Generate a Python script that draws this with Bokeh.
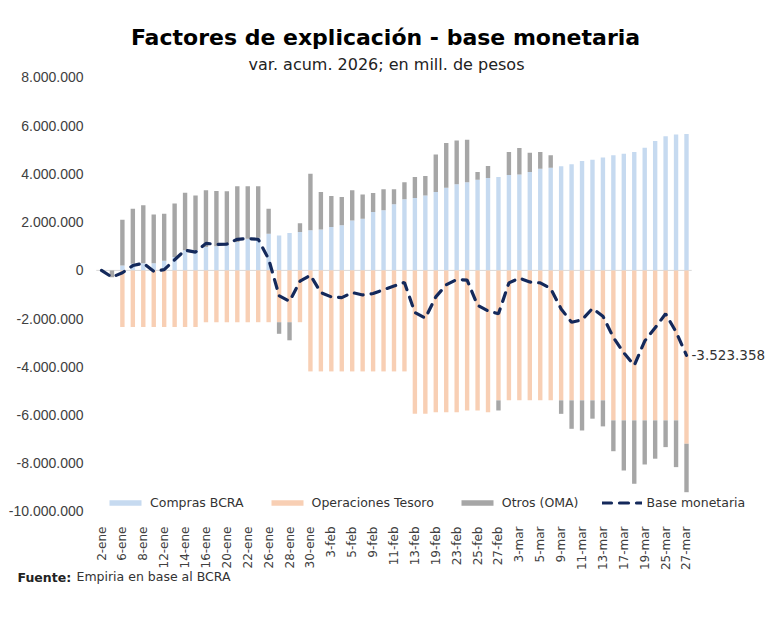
import math

from bokeh.plotting import figure
from bokeh.models import Range1d, FixedTicker, Label, Legend, LegendItem
from bokeh.embed import file_html
from bokeh.resources import INLINE

# Business days, 2026 (cumulative variation since 2-ene)
fechas = [
    "2-ene", "5-ene", "6-ene", "7-ene", "8-ene", "9-ene", "12-ene", "13-ene", "14-ene", "15-ene",
    "16-ene", "19-ene", "20-ene", "21-ene", "22-ene", "23-ene", "26-ene", "27-ene", "28-ene", "29-ene",
    "30-ene", "2-feb", "3-feb", "4-feb", "5-feb", "6-feb", "9-feb", "10-feb", "11-feb", "12-feb",
    "13-feb", "18-feb", "19-feb", "20-feb", "23-feb", "24-feb", "25-feb", "26-feb", "27-feb", "2-mar",
    "3-mar", "4-mar", "5-mar", "6-mar", "9-mar", "10-mar", "11-mar", "12-mar", "13-mar", "16-mar",
    "17-mar", "18-mar", "19-mar", "20-mar", "25-mar", "26-mar", "27-mar",
]

# Millions of pesos
compras_bcra = [
    0, 0, 200000, 280000, 300000, 300000, 400000, 550000, 830000, 850000,
    970000, 1000000, 1040000, 1180000, 1310000, 1350000, 1520000, 1450000, 1550000, 1590000,
    1660000, 1700000, 1800000, 1870000, 2070000, 2140000, 2420000, 2490000, 2740000, 2950000,
    3000000, 3110000, 3250000, 3430000, 3570000, 3660000, 3760000, 3830000, 3870000, 3960000,
    3980000, 4080000, 4220000, 4260000, 4320000, 4400000, 4540000, 4590000, 4680000, 4770000,
    4840000, 4910000, 5090000, 5370000, 5560000, 5640000, 5660000,
]

operaciones_tesoro = [
    0, 0, -2350000, -2350000, -2350000, -2350000, -2350000, -2350000, -2350000, -2350000,
    -2150000, -2150000, -2150000, -2150000, -2150000, -2150000, -2150000, -2150000, -2150000, -2150000,
    -4190000, -4190000, -4190000, -4190000, -4190000, -4190000, -4190000, -4190000, -4190000, -4190000,
    -5950000, -5950000, -5880000, -5880000, -5880000, -5810000, -5810000, -5880000, -5390000, -5390000,
    -5390000, -5390000, -5390000, -5390000, -5390000, -5390000, -5390000, -5390000, -5390000, -6220000,
    -6220000, -6220000, -6220000, -6220000, -6220000, -6220000, -7190000,
]

otros_oma = [
    0, -280000, 1900000, 2280000, 2400000, 2020000, 1950000, 2220000, 2390000, 2260000,
    2350000, 2290000, 2240000, 2310000, 2180000, 2140000, 1040000, -480000, -750000, 370000,
    2350000, 1550000, 1280000, 1170000, 1250000, 1010000, 790000, 870000, 620000, 710000,
    870000, 800000, 1560000, 1850000, 1820000, 1760000, 320000, 500000, -420000, 950000,
    1100000, 800000, 690000, 510000, -560000, -1180000, -1250000, -760000, -1080000, -1280000,
    -2080000, -2630000, -1830000, -1590000, -1110000, -1940000, -2010000,
]

base_monetaria = [
    0, -280000, -100000, 200000, 300000, -40000, 30000, 440000, 840000, 760000,
    1120000, 1080000, 1090000, 1290000, 1320000, 1290000, 470000, -1050000, -1280000, -450000,
    -200000, -920000, -1100000, -1130000, -920000, -1020000, -960000, -800000, -650000, -500000,
    -1750000, -1980000, -1100000, -600000, -380000, -400000, -1450000, -1680000, -1800000, -520000,
    -320000, -480000, -520000, -750000, -1600000, -2150000, -2050000, -1580000, -1900000, -2780000,
    -3420000, -3940000, -2930000, -2380000, -1800000, -2550000, -3523358,
]

y_ticks = [-10000000, -8000000, -6000000, -4000000, -2000000, 0,
           2000000, 4000000, 6000000, 8000000]

C_BCRA = "#c6daf0"
C_TESORO = "#f8cfb4"
C_OTROS = "#a6a6a6"
C_BASE = "#14295b"
TXT = "#404040"
FONT = "DejaVu Sans"


def miles(v):
    """Spanish thousands separator."""
    return f"{v:,.0f}".replace(",", ".")


x = list(range(len(fechas)))

# "Otros" stacks on top of the BCRA bar when positive, below the Treasury bar when negative
otros_base = [c if o >= 0 else t for c, t, o in zip(compras_bcra, operaciones_tesoro, otros_oma)]
otros_tope = [b + o for b, o in zip(otros_base, otros_oma)]

p = figure(
    width=780, height=629,
    output_backend="svg", toolbar_location=None,
    x_range=Range1d(-1.053, 64.52),
    y_range=Range1d(-10166000, 8290000),
    min_border_left=90, min_border_right=5,
    min_border_top=70, min_border_bottom=114,
)
p.outline_line_color = None
p.grid.visible = False
p.background_fill_color = "white"
p.border_fill_color = "white"

# zero baseline under the bars
p.segment(x0=[-0.5], x1=[len(fechas) - 0.5], y0=[0], y1=[0],
          line_color="#d9d9d9", line_width=1)

w = 0.42
r_bcra = p.vbar(x=x, width=w, bottom=0, top=compras_bcra,
                fill_color=C_BCRA, line_color=None)
r_tes = p.vbar(x=x, width=w, top=0, bottom=operaciones_tesoro,
               fill_color=C_TESORO, line_color=None)
r_otr = p.vbar(x=x, width=w, bottom=otros_base, top=otros_tope,
               fill_color=C_OTROS, line_color=None)
r_base = p.line(x=x, y=base_monetaria, line_color=C_BASE, line_width=3.2,
                line_dash="9 8", line_cap="round")

# axes
xa = p.xaxis[0]
xa.ticker = FixedTicker(ticks=x[::2])
xa.major_label_overrides = {i: fechas[i] for i in x[::2]}
xa.major_label_orientation = math.pi / 2
xa.axis_line_color = None
xa.major_tick_line_color = None
xa.minor_tick_line_color = None
xa.major_label_standoff = 5
xa.major_label_text_font = FONT
xa.major_label_text_font_size = "12px"
xa.major_label_text_color = TXT

ya = p.yaxis[0]
ya.ticker = FixedTicker(ticks=y_ticks)
ya.major_label_overrides = {t: miles(t) for t in y_ticks}
ya.axis_line_color = None
ya.major_tick_line_color = None
ya.minor_tick_line_color = None
ya.major_tick_out = 0
ya.major_label_standoff = 7
ya.major_label_text_font = "Liberation Sans"
ya.major_label_text_font_size = "14px"
ya.major_label_text_color = TXT

# legend
legend = Legend(
    items=[
        LegendItem(label="Compras BCRA", renderers=[r_bcra]),
        LegendItem(label="Operaciones Tesoro", renderers=[r_tes]),
        LegendItem(label="Otros (OMA)", renderers=[r_otr]),
        LegendItem(label="Base monetaria", renderers=[r_base]),
    ],
    orientation="horizontal",
    location=(15, 5),
    glyph_width=40, glyph_height=7,
    label_standoff=5, spacing=23,
    padding=0, margin=0,
    label_text_font=FONT, label_text_font_size="12.5px", label_text_color="#333333",
    border_line_color=None, background_fill_alpha=0,
)
p.add_layout(legend)

# value of the last observation
p.add_layout(Label(
    x=x[-1], y=base_monetaria[-1], text=miles(base_monetaria[-1]),
    x_offset=5, text_baseline="middle",
    text_font=FONT, text_font_size="13.5px", text_color="#333333",
))

# titles (top panel) and source note (bottom panel)
p.add_layout(Label(
    x=295, y=33, x_units="screen", y_units="screen",
    text="Factores de explicación - base monetaria",
    text_align="center", text_baseline="alphabetic",
    text_font=FONT, text_font_style="bold", text_font_size="22px", text_color="#000000",
), "above")
p.add_layout(Label(
    x=296, y=-19, x_units="screen", y_units="screen",
    text="var. acum. 2026; en mill. de pesos",
    text_align="center", text_baseline="alphabetic",
    text_font=FONT, text_font_size="16px", text_color="#222222",
), "above")
p.add_layout(Label(
    x=-73, y=10.6, x_units="screen", y_units="screen",
    text="Fuente:", text_baseline="alphabetic",
    text_font=FONT, text_font_style="bold", text_font_size="12.5px", text_color="#222222",
), "below")
p.add_layout(Label(
    x=-14, y=26.6, x_units="screen", y_units="screen",
    text="Empiria en base al BCRA", text_baseline="alphabetic",
    text_font=FONT, text_font_size="12.5px", text_color="#333333",
), "below")

open("out.html", "w").write(file_html(p, INLINE))
